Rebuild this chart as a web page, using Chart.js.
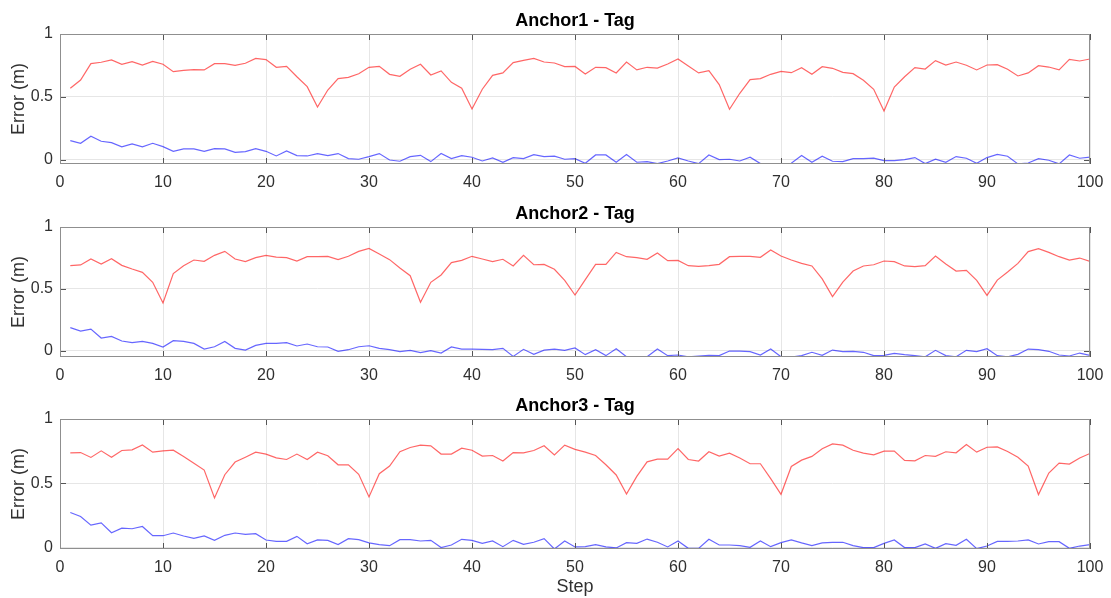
<!DOCTYPE html>
<html>
<head>
<meta charset="utf-8">
<script src="https://cdn.jsdelivr.net/npm/chart.js@4.4.1/dist/chart.umd.min.js"></script>
<style>
  body { margin: 0; background: #fff; }
  #wrap { position: relative; width: 1111px; height: 598px; }
  canvas { position: absolute; left: 0; }
</style>
</head>
<body>
<div id="wrap">
  <canvas id="c1" width="1111" height="193" style="top:0"></canvas>
  <canvas id="c2" width="1111" height="192" style="top:193px"></canvas>
  <canvas id="c3" width="1111" height="213" style="top:385px"></canvas>
</div>
<script>
const steps = Array.from({ length: 100 }, (_, i) => i + 1);
const stepTicks = [0, 10, 20, 30, 40, 50, 60, 70, 80, 90, 100];
const errorTicks = [0, 0.5, 1];
const titles = ['Anchor1 - Tag', 'Anchor2 - Tag', 'Anchor3 - Tag'];
const yLower = [-0.035, -0.051, -0.008];

const anchor1Measured = [
  0.568, 0.634, 0.764, 0.775, 0.793, 0.759, 0.780, 0.753, 0.782, 0.759,
  0.700, 0.711, 0.716, 0.714, 0.764, 0.764, 0.751, 0.767, 0.806, 0.796,
  0.735, 0.743, 0.660, 0.581, 0.419, 0.554, 0.645, 0.655, 0.684, 0.735,
  0.743, 0.679, 0.663, 0.719, 0.759, 0.674, 0.706, 0.615, 0.568, 0.403,
  0.560, 0.671, 0.690, 0.772, 0.790, 0.806, 0.777, 0.769, 0.740, 0.742,
  0.682, 0.735, 0.732, 0.690, 0.777, 0.714, 0.735, 0.729, 0.761, 0.801,
  0.745, 0.690, 0.708, 0.597, 0.401, 0.528, 0.637, 0.645, 0.679, 0.703,
  0.692, 0.732, 0.679, 0.740, 0.727, 0.695, 0.684, 0.631, 0.560, 0.387,
  0.578, 0.660, 0.732, 0.721, 0.788, 0.753, 0.777, 0.751, 0.714, 0.753,
  0.756, 0.719, 0.666, 0.690, 0.748, 0.737, 0.714, 0.798, 0.785, 0.801
];
const anchor1Filtered = [
  0.151, 0.130, 0.186, 0.146, 0.135, 0.101, 0.125, 0.101, 0.130, 0.103,
  0.066, 0.085, 0.085, 0.066, 0.088, 0.085, 0.058, 0.064, 0.088, 0.066,
  0.029, 0.069, 0.032, 0.029, 0.048, 0.032, 0.048, 0.008, 0.003, 0.024,
  0.048, -0.003, -0.013, 0.024, 0.034, -0.016, 0.048, 0.008, 0.032, 0.019,
  -0.011, 0.013, -0.021, 0.016, 0.008, 0.040, 0.024, 0.027, 0.003, 0.008,
  -0.029, 0.037, 0.037, -0.021, 0.040, -0.021, -0.016, -0.032, -0.011, 0.013,
  -0.011, -0.032, 0.037, 0.000, 0.003, -0.011, 0.019, -0.032, -0.032, -0.034,
  -0.029, 0.032, -0.021, 0.027, -0.013, -0.016, 0.008, 0.008, 0.011, -0.008,
  -0.008, 0.000, 0.016, -0.032, 0.003, -0.021, 0.024, 0.011, -0.029, 0.016,
  0.042, 0.027, -0.034, -0.027, 0.008, -0.005, -0.034, 0.037, 0.011, 0.019
];

const anchor2Measured = [
  0.687, 0.693, 0.741, 0.701, 0.744, 0.690, 0.660, 0.633, 0.553, 0.385,
  0.623, 0.687, 0.733, 0.722, 0.771, 0.803, 0.741, 0.720, 0.752, 0.771,
  0.757, 0.752, 0.725, 0.760, 0.760, 0.763, 0.736, 0.763, 0.803, 0.827,
  0.782, 0.736, 0.668, 0.606, 0.391, 0.553, 0.612, 0.712, 0.730, 0.763,
  0.741, 0.720, 0.739, 0.685, 0.771, 0.695, 0.698, 0.658, 0.569, 0.450,
  0.574, 0.698, 0.698, 0.795, 0.760, 0.752, 0.739, 0.790, 0.728, 0.730,
  0.687, 0.682, 0.687, 0.698, 0.760, 0.763, 0.763, 0.755, 0.814, 0.766,
  0.733, 0.706, 0.685, 0.580, 0.437, 0.555, 0.644, 0.685, 0.695, 0.725,
  0.720, 0.685, 0.679, 0.687, 0.766, 0.701, 0.644, 0.650, 0.569, 0.447,
  0.571, 0.636, 0.706, 0.801, 0.825, 0.795, 0.760, 0.733, 0.749, 0.722
];
const anchor2Filtered = [
  0.186, 0.159, 0.175, 0.102, 0.116, 0.078, 0.065, 0.075, 0.059, 0.030,
  0.081, 0.075, 0.059, 0.013, 0.032, 0.075, 0.019, 0.005, 0.043, 0.059,
  0.059, 0.065, 0.038, 0.054, 0.032, 0.030, -0.005, 0.008, 0.032, 0.040,
  0.019, 0.008, -0.008, 0.003, -0.016, 0.000, -0.019, 0.030, 0.013, 0.013,
  0.011, 0.008, 0.019, -0.046, 0.011, -0.030, 0.005, 0.013, 0.003, 0.022,
  -0.032, 0.008, -0.040, 0.016, -0.049, -0.049, -0.049, 0.013, -0.040, -0.035,
  -0.049, -0.043, -0.038, -0.040, -0.003, -0.003, -0.008, -0.035, 0.013, -0.049,
  -0.051, -0.040, -0.013, -0.038, 0.005, -0.008, -0.005, -0.013, -0.040, -0.038,
  -0.022, -0.032, -0.040, -0.049, 0.003, -0.040, -0.049, 0.003, -0.008, 0.016,
  -0.040, -0.049, -0.030, 0.013, 0.008, -0.005, -0.035, -0.043, -0.019, -0.038
];

const anchor3Measured = [
  0.738, 0.740, 0.702, 0.753, 0.704, 0.756, 0.761, 0.799, 0.743, 0.753,
  0.758, 0.710, 0.656, 0.604, 0.388, 0.568, 0.666, 0.704, 0.743, 0.728,
  0.699, 0.686, 0.728, 0.686, 0.743, 0.715, 0.645, 0.645, 0.571, 0.396,
  0.576, 0.635, 0.746, 0.779, 0.797, 0.792, 0.728, 0.728, 0.774, 0.758,
  0.712, 0.717, 0.674, 0.740, 0.738, 0.756, 0.792, 0.722, 0.797, 0.765,
  0.743, 0.717, 0.645, 0.566, 0.419, 0.555, 0.668, 0.689, 0.689, 0.771,
  0.686, 0.674, 0.746, 0.712, 0.735, 0.697, 0.653, 0.653, 0.537, 0.416,
  0.632, 0.681, 0.710, 0.769, 0.807, 0.797, 0.758, 0.735, 0.722, 0.751,
  0.751, 0.679, 0.676, 0.717, 0.710, 0.746, 0.738, 0.802, 0.743, 0.781,
  0.784, 0.748, 0.704, 0.635, 0.414, 0.581, 0.658, 0.650, 0.697, 0.733
];
const anchor3Filtered = [
  0.275, 0.244, 0.177, 0.195, 0.118, 0.154, 0.149, 0.167, 0.095, 0.095,
  0.116, 0.093, 0.075, 0.093, 0.059, 0.098, 0.116, 0.105, 0.111, 0.062,
  0.051, 0.051, 0.090, 0.033, 0.062, 0.059, 0.026, 0.072, 0.064, 0.039,
  0.026, 0.018, 0.064, 0.064, 0.054, 0.059, 0.003, 0.023, 0.067, 0.059,
  0.036, 0.054, 0.010, 0.059, 0.028, 0.044, 0.072, -0.008, 0.054, 0.008,
  0.010, 0.026, 0.008, 0.000, 0.041, 0.036, 0.069, 0.044, 0.008, 0.054,
  -0.003, -0.003, 0.067, 0.023, 0.023, 0.018, 0.005, 0.054, 0.010, 0.041,
  0.062, 0.039, 0.018, 0.039, 0.044, 0.044, 0.018, 0.003, 0.003, 0.036,
  0.062, 0.003, 0.003, 0.031, -0.003, 0.033, 0.021, 0.067, -0.005, 0.015,
  0.051, 0.051, 0.054, 0.062, 0.031, 0.049, 0.049, -0.003, 0.015, 0.026
];

const measured = [anchor1Measured, anchor2Measured, anchor3Measured];
const filtered = [anchor1Filtered, anchor2Filtered, anchor3Filtered];

const FONT = 'Arial, "Liberation Sans", Helvetica, sans-serif';
const TEXT = '#303030';

// axes box with inward tick marks, drawn over the lines
const boxPlugin = {
  id: 'box',
  afterDraw(chart) {
    const { ctx, chartArea: a, scales: { x, y } } = chart;
    ctx.save();
    ctx.lineWidth = 1;
    ctx.strokeStyle = '#555';
    ctx.beginPath();
    for (const v of stepTicks) {
      const px = Math.round(x.getPixelForValue(v)) + 0.5;
      ctx.moveTo(px, a.top); ctx.lineTo(px, a.top + 6);
      ctx.moveTo(px, a.bottom); ctx.lineTo(px, a.bottom - 6);
    }
    for (const v of errorTicks) {
      const py = Math.round(y.getPixelForValue(v)) + 0.5;
      ctx.moveTo(a.left, py); ctx.lineTo(a.left + 6, py);
      ctx.moveTo(a.right, py); ctx.lineTo(a.right - 6, py);
    }
    ctx.stroke();
    ctx.strokeStyle = '#8f8f8f';
    ctx.strokeRect(a.left + 0.5, a.top + 0.5, a.width - 1, a.height - 1);
    ctx.restore();
  }
};

function toPoints(values) {
  return values.map((v, i) => ({ x: steps[i], y: v }));
}

function panel(id, idx, axisHeight, showStep) {
  return new Chart(document.getElementById(id), {
    type: 'line',
    data: {
      datasets: [
        {
          data: toPoints(measured[idx]),
          borderColor: 'rgba(255,0,0,0.6)',
          borderWidth: 1.2,
          pointRadius: 0,
          tension: 0,
        },
        {
          data: toPoints(filtered[idx]),
          borderColor: 'rgba(0,0,255,0.6)',
          borderWidth: 1.2,
          pointRadius: 0,
          tension: 0,
        }
      ]
    },
    options: {
      responsive: false,
      animation: false,
      events: [],
      layout: { padding: { left: 0, right: 21, top: 0, bottom: 0 } },
      plugins: {
        legend: { display: false },
        tooltip: { enabled: false },
        title: {
          display: true,
          fullSize: false,
          text: titles[idx],
          color: '#000',
          font: { family: FONT, size: 18, weight: 'bold', lineHeight: 1.2 },
          padding: { top: 10, bottom: 2.4 },
        }
      },
      scales: {
        x: {
          type: 'linear',
          min: 0,
          max: 100,
          afterBuildTicks: s => { s.ticks = stepTicks.map(v => ({ value: v })); },
          afterFit: s => { s.height = axisHeight; s.paddingLeft = 0; s.paddingRight = 0; },
          grid: { color: '#e6e6e6', drawTicks: false },
          border: { display: false },
          ticks: {
            color: TEXT, padding: 9, maxRotation: 0, autoSkip: false,
            font: { family: FONT, size: 16 },
          },
          title: {
            display: showStep,
            text: 'Step',
            color: TEXT,
            font: { family: FONT, size: 18, lineHeight: 1.2 },
            padding: { top: 0, bottom: 0 },
          }
        },
        y: {
          min: yLower[idx],
          max: 1,
          afterBuildTicks: s => { s.ticks = errorTicks.map(v => ({ value: v })); },
          afterFit: s => { s.width = 60; s.paddingTop = 0; s.paddingBottom = 0; },
          grid: { color: '#e6e6e6', drawTicks: false },
          border: { display: false },
          ticks: {
            color: TEXT, padding: 7,
            font: { family: FONT, size: 16 },
            callback: v => String(v),
          },
          title: {
            display: true,
            text: 'Error (m)',
            color: TEXT,
            font: { family: FONT, size: 18, lineHeight: 1.2 },
            padding: { top: 8, bottom: 0 },
          }
        }
      }
    },
    plugins: [boxPlugin]
  });
}

panel('c1', 0, 29, false);
panel('c2', 1, 28, false);
panel('c3', 2, 49, true);
</script>
</body>
</html>
